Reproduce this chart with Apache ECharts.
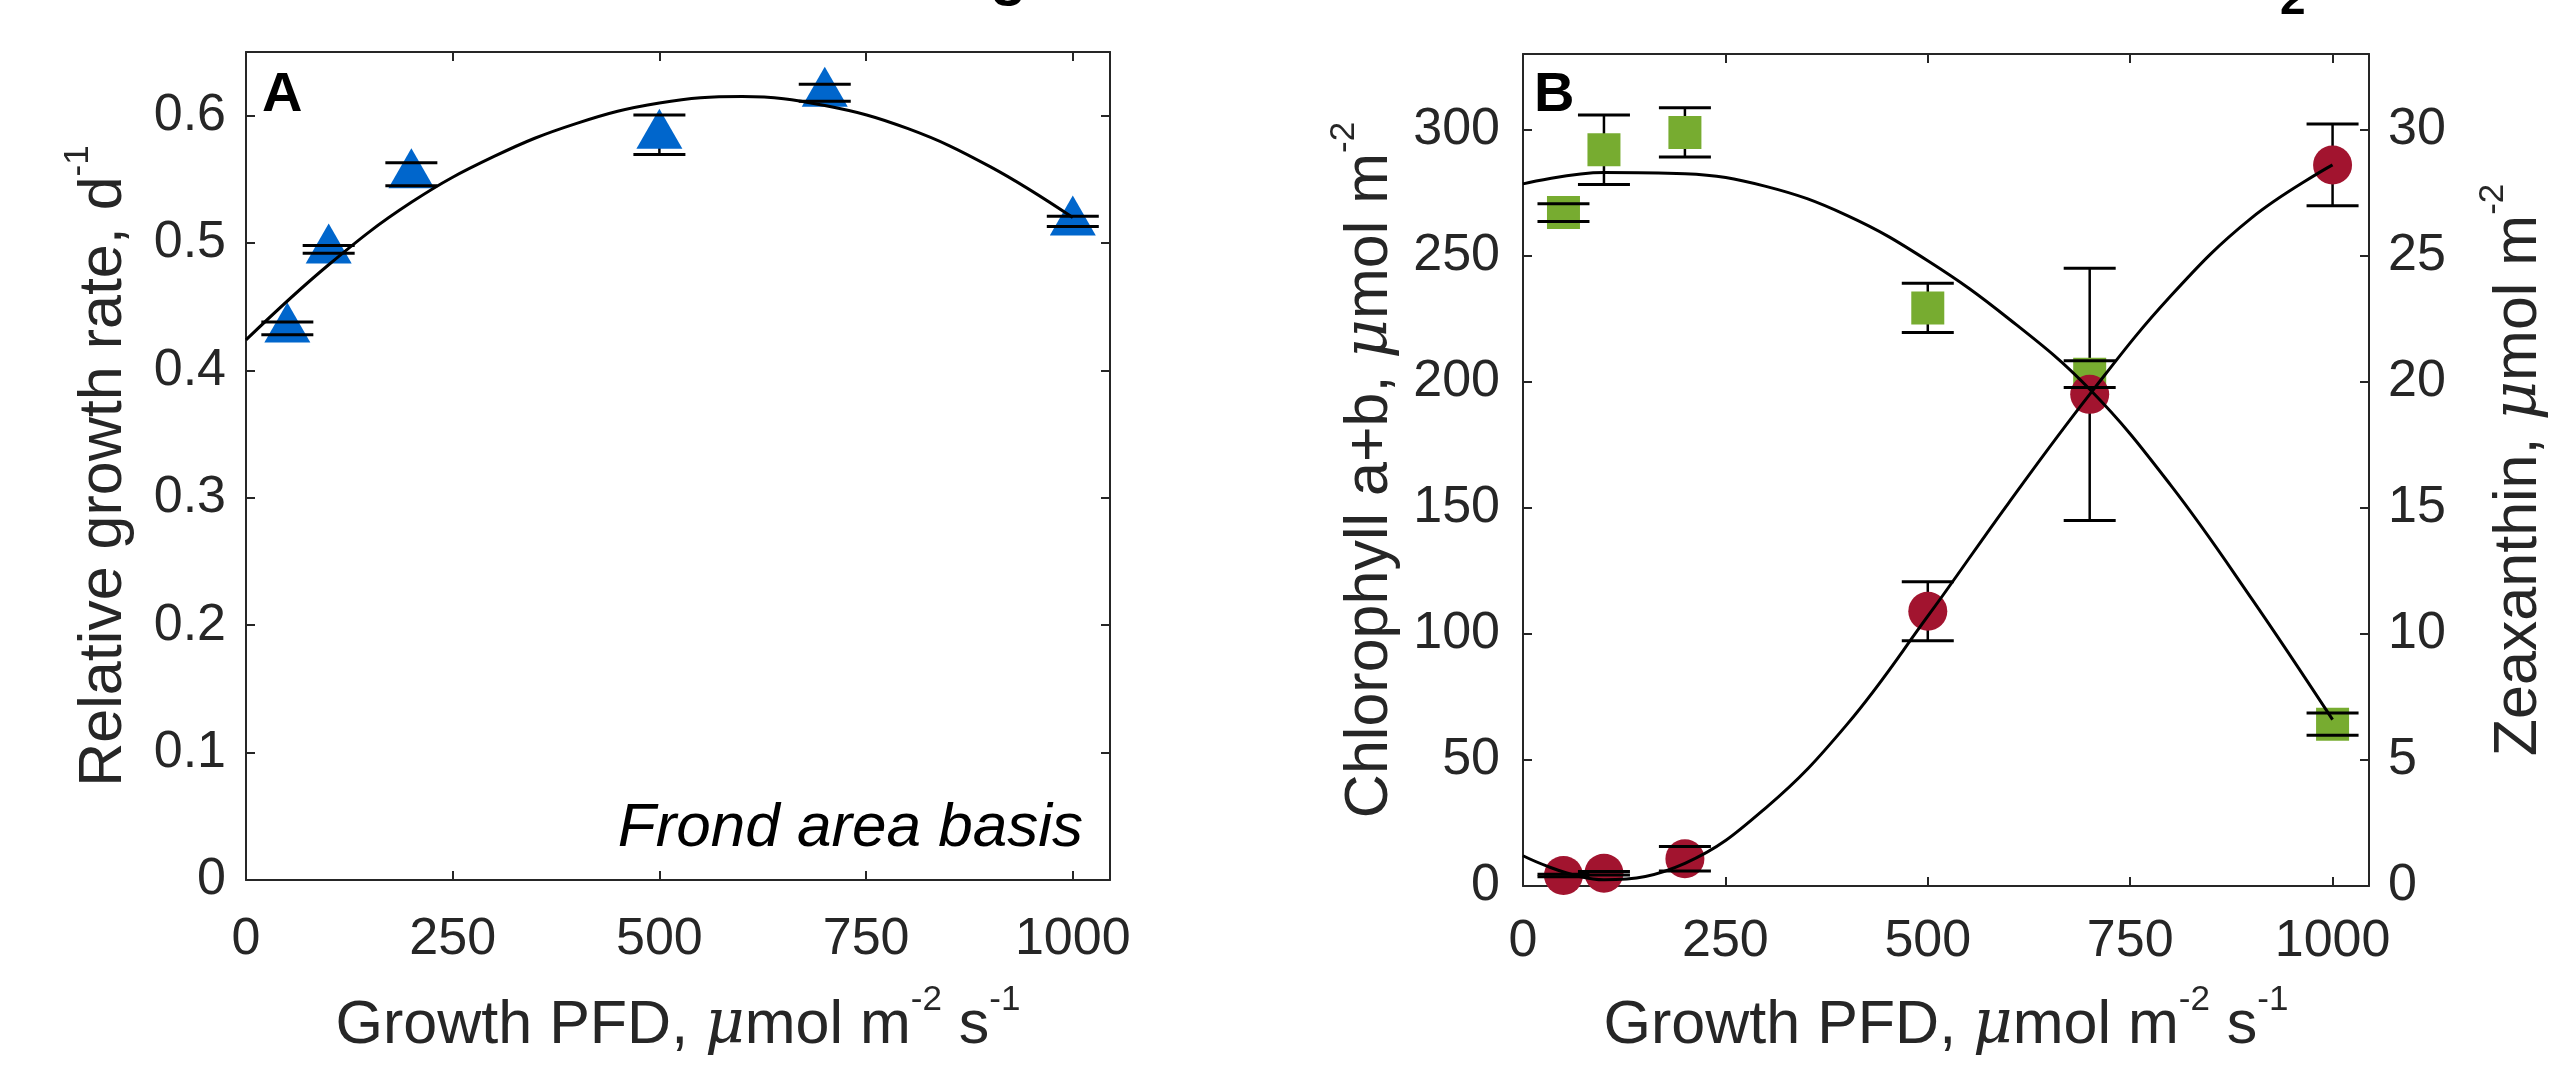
<!DOCTYPE html>
<html>
<head>
<meta charset="utf-8">
<script src="https://cdn.jsdelivr.net/npm/echarts@6/dist/echarts.min.js"></script>
<style>
  html, body { margin: 0; padding: 0; background: #fff; }
  #main { width: 2554px; height: 1065px; }
</style>
</head>
<body>
<div id="main"></div>
<script>
// growth light (PFD) levels of the measured points
var pfd = [50, 100, 200, 500, 700, 1000];

// panel A, relative growth rate (d-1)
var growthRate = [0.433, 0.495, 0.554, 0.585, 0.618, 0.517];
var growthErr = [0.005, 0.003, 0.009, 0.0155, 0.0067, 0.004];

// panel B, chlorophyll a+b (left axis) and zeaxanthin (right axis)
var chlValues = [267.1, 292.0, 298.9, 229.3, 203.0, 64.2];
var chlErr = [3.5, 13.8, 9.8, 9.8, 5.3, 4.4];
var zeaValues = [0.42, 0.51, 1.08, 10.9, 19.5, 28.6];
var zeaErr = [0.05, 0.07, 0.49, 1.17, 5.0, 1.62];

// fitted curves
var fitX = [0, 100, 200, 300, 400, 500, 600, 700, 800, 900, 1000];
var growthFit = [0.424, 0.483, 0.532, 0.568, 0.594, 0.610, 0.615, 0.608, 0.590, 0.560, 0.520];
var chlFit = [278.5, 283, 282.5, 277.5, 266, 248, 225, 197, 159, 114, 66];
var zeaFit = [1.2, 0.25, 0.9, 3.1, 6.4, 10.7, 15.2, 19.5, 23.4, 26.5, 28.6];

// axis ticks
var xTicks = { min: 0, max: 1045, step: 250 };
var rgrTicks = { min: 0, max: 0.65, step: 0.1 };
var chlTicks = { min: 0, max: 330, step: 50 };
var zeaTicks = { min: 0, max: 33, step: 5 };

var axisColor = '#262626';
var fontName = '"Liberation Sans", Arial, Helvetica, sans-serif';

var nameRich = {
    t: { fontSize: 61, lineHeight: 68, fontFamily: fontName, color: axisColor },
    mu: { fontSize: 61, lineHeight: 68, fontFamily: '"DejaVu Serif", serif', fontStyle: 'italic', color: axisColor },
    s: { fontSize: 35, lineHeight: 35, padding: [0, 0, 42, 0], verticalAlign: 'bottom', fontFamily: fontName, color: axisColor }
};

function valueAxis(grid, pos, ticks, labels, labelMargin) {
    return {
        type: 'value',
        gridIndex: grid,
        position: pos,
        min: ticks.min,
        max: ticks.max,
        interval: ticks.step,
        axisLine: { show: true, onZero: false, lineStyle: { color: axisColor, width: 2 } },
        axisTick: { show: true, inside: true, length: 9, lineStyle: { color: axisColor, width: 2 } },
        axisLabel: {
            show: labels,
            showMaxLabel: false,
            margin: labelMargin || 8,
            fontSize: 52,
            fontFamily: fontName,
            color: axisColor,
            formatter: function (v) { return String(Math.round(v * 100) / 100); }
        },
        splitLine: { show: false }
    };
}

function pointsOf(xs, ys) {
    return xs.map(function (x, i) { return [x, ys[i]]; });
}

function errOf(xs, ys, es) {
    return xs.map(function (x, i) { return [x, ys[i], es[i]]; });
}

function renderStem(params, api) {
    var x = api.value(0), y = api.value(1), e = api.value(2);
    var hi = api.coord([x, y + e]);
    var lo = api.coord([x, y - e]);
    return {
        type: 'line',
        shape: { x1: hi[0], y1: hi[1], x2: lo[0], y2: lo[1] },
        style: { stroke: '#000', lineWidth: 2.5 }
    };
}

function renderCaps(params, api) {
    var x = api.value(0), y = api.value(1), e = api.value(2);
    var hi = api.coord([x, y + e]);
    var lo = api.coord([x, y - e]);
    var half = 26;
    return {
        type: 'group',
        children: [
            { type: 'line', shape: { x1: hi[0] - half, y1: hi[1], x2: hi[0] + half, y2: hi[1] }, style: { stroke: '#000', lineWidth: 3 } },
            { type: 'line', shape: { x1: lo[0] - half, y1: lo[1], x2: lo[0] + half, y2: lo[1] }, style: { stroke: '#000', lineWidth: 3 } }
        ]
    };
}

function errorSeries(xi, yi, data, caps) {
    return {
        type: 'custom',
        xAxisIndex: xi,
        yAxisIndex: yi,
        z: caps ? 3 : 1,
        silent: true,
        renderItem: caps ? renderCaps : renderStem,
        encode: { x: 0, y: 1 },
        data: data
    };
}

function fitSeries(xi, yi, data) {
    return {
        type: 'line',
        xAxisIndex: xi,
        yAxisIndex: yi,
        z: 4,
        silent: true,
        smooth: 0.4,
        showSymbol: false,
        symbol: 'none',
        lineStyle: { color: '#000', width: 3 },
        data: data
    };
}

var pfdName = '{t|Growth PFD, }{mu|μ}{t|mol m}{s|-2}{t| s}{s|-1}';

var xA = valueAxis(0, 'bottom', xTicks, true, 34);
xA.name = pfdName;
xA.nameLocation = 'middle';
xA.nameGap = 112;
xA.nameTextStyle = { rich: nameRich };

var xB = valueAxis(1, 'bottom', xTicks, true, 30);
xB.name = pfdName;
xB.nameLocation = 'middle';
xB.nameGap = 106;
xB.nameTextStyle = { rich: nameRich };

var yA = valueAxis(0, 'left', rgrTicks, true, 20);
yA.name = '{t|Relative growth rate, d}{s|-1}';
yA.nameLocation = 'middle';
yA.nameGap = 108;
yA.nameTextStyle = { rich: nameRich };

var yChl = valueAxis(1, 'left', chlTicks, true, 23);
yChl.name = '{t|Chlorophyll a+b, }{mu|μ}{t|mol m}{s|-2}';
yChl.nameLocation = 'middle';
yChl.nameGap = 119;
yChl.nameTextStyle = { rich: nameRich };

var yZea = valueAxis(1, 'right', zeaTicks, true, 19);
yZea.name = '{t|Zeaxanthin, }{mu|μ}{t|mol m}{s|-2}';
yZea.nameLocation = 'middle';
yZea.nameGap = 116;
yZea.nameTextStyle = { rich: nameRich };

var myChart = echarts.init(document.getElementById('main'), null, { renderer: 'canvas' });

option = {
    backgroundColor: '#ffffff',
    animation: false,
    grid: [
        { left: 246, top: 52, width: 864, height: 837 },
        { left: 1523, top: 54, width: 869, height: 841 }
    ],
    xAxis: [
        xA,
        valueAxis(0, 'top', xTicks, false),
        xB,
        valueAxis(1, 'top', xTicks, false)
    ],
    yAxis: [
        yA,
        valueAxis(0, 'right', rgrTicks, false),
        yChl,
        yZea
    ],
    graphic: [
        { type: 'text', x: 990, y: -23, style: { text: 'g', font: 'bold 60px ' + fontName, fill: '#000', textVerticalAlign: 'middle' } },
        { type: 'text', x: 2280, y: 1, style: { text: '2', font: 'bold 46px ' + fontName, fill: '#000', textVerticalAlign: 'middle' } },
        { type: 'text', x: 262, y: 96, style: { text: 'A', font: 'bold 56px ' + fontName, fill: '#000', textVerticalAlign: 'middle' } },
        { type: 'text', x: 1534, y: 96, style: { text: 'B', font: 'bold 56px ' + fontName, fill: '#000', textVerticalAlign: 'middle' } },
        { type: 'text', x: 1083, y: 829, style: { text: 'Frond area basis', font: 'italic 62px ' + fontName, fill: '#000', textAlign: 'right', textVerticalAlign: 'middle' } }
    ],
    series: [
        errorSeries(0, 0, errOf(pfd, growthRate, growthErr), false),
        {
            type: 'scatter',
            xAxisIndex: 0,
            yAxisIndex: 0,
            z: 2,
            symbol: 'triangle',
            symbolSize: [46, 40],
            symbolOffset: [0, -6],
            itemStyle: { color: '#0066CC', opacity: 1 },
            data: pointsOf(pfd, growthRate)
        },
        errorSeries(0, 0, errOf(pfd, growthRate, growthErr), true),
        fitSeries(0, 0, pointsOf(fitX, growthFit)),

        errorSeries(2, 2, errOf(pfd, chlValues, chlErr), false),
        errorSeries(2, 3, errOf(pfd, zeaValues, zeaErr), false),
        {
            type: 'scatter',
            xAxisIndex: 2,
            yAxisIndex: 2,
            z: 2,
            symbol: 'rect',
            symbolSize: 33,
            itemStyle: { color: '#77AC30', opacity: 1 },
            data: pointsOf(pfd, chlValues)
        },
        {
            type: 'scatter',
            xAxisIndex: 2,
            yAxisIndex: 3,
            z: 2,
            symbol: 'circle',
            symbolSize: 39,
            itemStyle: { color: '#A2142F', opacity: 1 },
            data: pointsOf(pfd, zeaValues)
        },
        errorSeries(2, 2, errOf(pfd, chlValues, chlErr), true),
        errorSeries(2, 3, errOf(pfd, zeaValues, zeaErr), true),
        fitSeries(2, 2, pointsOf(fitX, chlFit)),
        fitSeries(2, 3, pointsOf(fitX, zeaFit))
    ]
};

if (option && typeof option === "object") {
    myChart.setOption(option, true);
}
</script>
</body>
</html>
